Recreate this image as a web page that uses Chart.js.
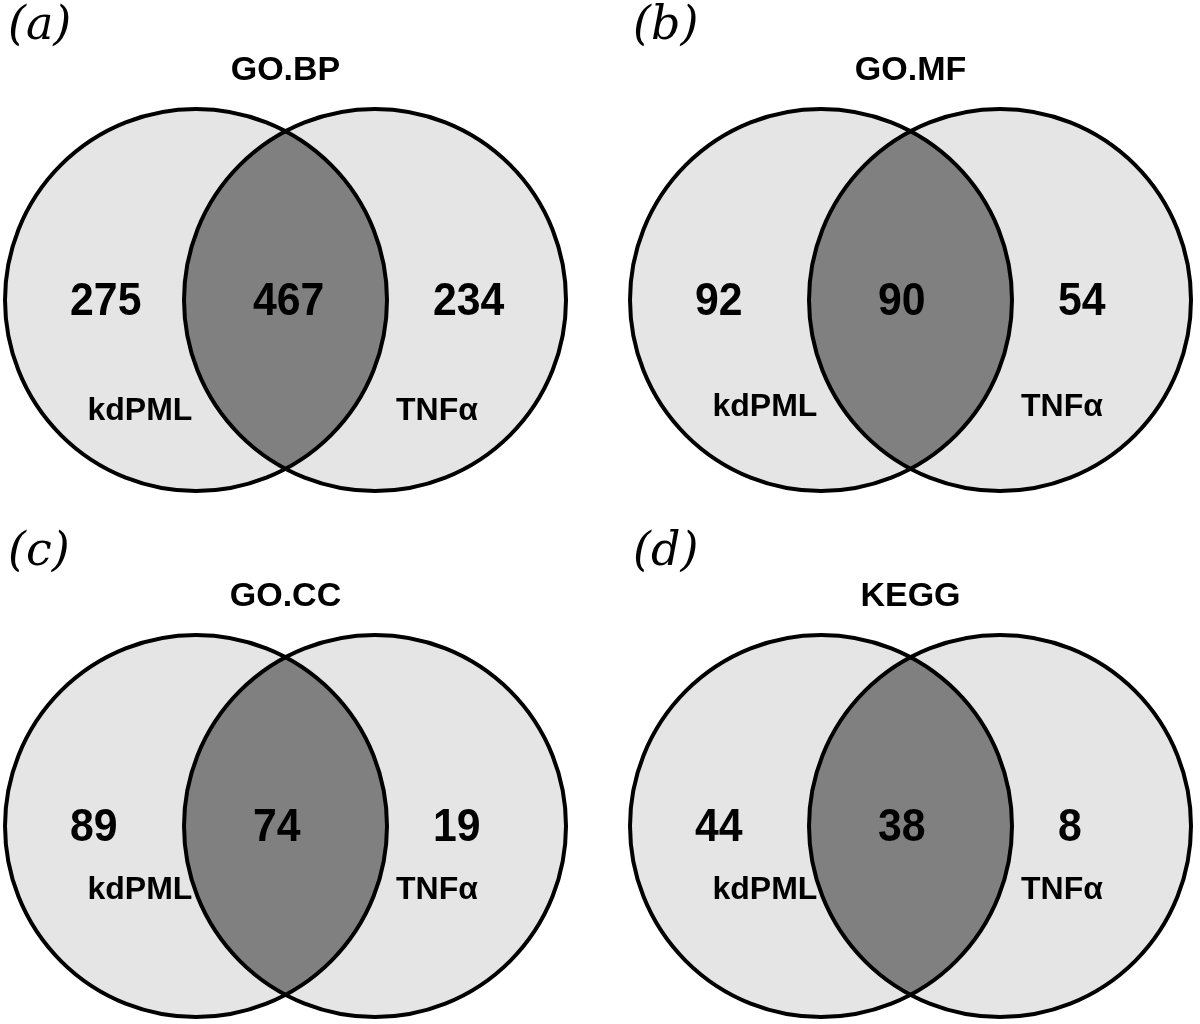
<!DOCTYPE html>
<html>
<head>
<meta charset="utf-8">
<script src="https://cdn.jsdelivr.net/npm/chart.js@4.4.1/dist/chart.umd.min.js"></script>
<style>
  html, body { margin: 0; padding: 0; background: #fff; }
  #wrap { position: relative; width: 1200px; height: 1024px; }
  .panel { position: absolute; width: 575px; height: 498px; }
</style>
</head>
<body>
<div id="wrap">
  <div class="panel" style="left:0;top:0"><canvas id="vennA"></canvas></div>
  <div class="panel" style="left:625px;top:0"><canvas id="vennB"></canvas></div>
  <div class="panel" style="left:0;top:526px"><canvas id="vennC"></canvas></div>
  <div class="panel" style="left:625px;top:526px"><canvas id="vennD"></canvas></div>
</div>
<script>
// Venn diagrams: kdPML vs TNFa enrichment overlap

// data
const panelTags = ['(a)', '(b)', '(c)', '(d)'];
const panelTitles = ['GO.BP', 'GO.MF', 'GO.CC', 'KEGG'];
const setNames = ['kdPML', 'TNFα'];
const onlyKdPML = [275, 92, 89, 44];
const shared = [467, 90, 74, 38];
const onlyTNFa = [234, 54, 19, 8];

// colours
const lightFill = '#e5e5e5';
const lensFill = '#808080';
const ink = '#000';

// layout (units of circle radius)
const centerOffset = 0.4686;
const countX = [-1.128, -0.170, 0.772];
const nameX = [-0.762, 0.793];
const nameY = [-0.58, -0.56, -0.335, -0.335];

const vennPlugin = {
  id: 'venn',
  afterDatasetsDraw(chart, args, opts) {
    const { ctx, scales: { x, y } } = chart;
    const i = opts.index;
    const pts = chart.data.datasets[0].data;
    const rad = x.getPixelForValue(1) - x.getPixelForValue(0);
    const c = pts.map(p => [x.getPixelForValue(p.x), y.getPixelForValue(p.y)]);
    const circle = (p) => { ctx.beginPath(); ctx.arc(p[0], p[1], rad, 0, Math.PI * 2); };

    ctx.save();
    ctx.fillStyle = lightFill;
    c.forEach(p => { circle(p); ctx.fill(); });
    // lens
    ctx.save();
    circle(c[0]); ctx.clip();
    circle(c[1]); ctx.fillStyle = lensFill; ctx.fill();
    ctx.restore();
    ctx.strokeStyle = ink;
    ctx.lineWidth = 4;
    c.forEach(p => { circle(p); ctx.stroke(); });

    // counts
    ctx.fillStyle = ink;
    ctx.textBaseline = 'middle';
    ctx.textAlign = 'left';
    ctx.font = "bold 46px 'Liberation Sans', Arial, sans-serif";
    [onlyKdPML[i], shared[i], onlyTNFa[i]].forEach((v, k) => {
      ctx.save();
      ctx.translate(x.getPixelForValue(countX[k]), y.getPixelForValue(0) + 2);
      ctx.scale(0.93, 1);
      ctx.fillText(String(v), 0, 0);
      ctx.restore();
    });

    // set names
    ctx.textAlign = 'center';
    ctx.font = "bold 32px 'Liberation Sans', Arial, sans-serif";
    setNames.forEach((n, k) => {
      ctx.fillText(n, x.getPixelForValue(nameX[k]), y.getPixelForValue(nameY[i]));
    });

    // title + tag
    ctx.font = "bold 34px 'Liberation Sans', Arial, sans-serif";
    ctx.fillText(panelTitles[i], x.getPixelForValue(0), chart.chartArea.top + 71);
    ctx.textAlign = 'left';
    ctx.font = "italic 46px 'DejaVu Serif', serif";
    ctx.fillText(panelTags[i], chart.chartArea.left + 8, chart.chartArea.top + 27);
    ctx.restore();
  }
};

['vennA', 'vennB', 'vennC', 'vennD'].forEach((id, i) => {
  new Chart(document.getElementById(id), {
    type: 'scatter',
    data: {
      datasets: [{
        label: panelTitles[i],
        data: [{ x: -centerOffset, y: 0 }, { x: centerOffset, y: 0 }],
        pointRadius: 0
      }]
    },
    options: {
      responsive: true,
      maintainAspectRatio: false,
      animation: false,
      layout: { padding: 0 },
      plugins: {
        legend: { display: false },
        tooltip: { enabled: false },
        venn: { index: i }
      },
      scales: {
        x: { display: false, min: -1.4948, max: 1.5157 },
        y: { display: false, min: -1.0366, max: 1.5707 }
      }
    },
    plugins: [vennPlugin]
  });
});
</script>
</body>
</html>
